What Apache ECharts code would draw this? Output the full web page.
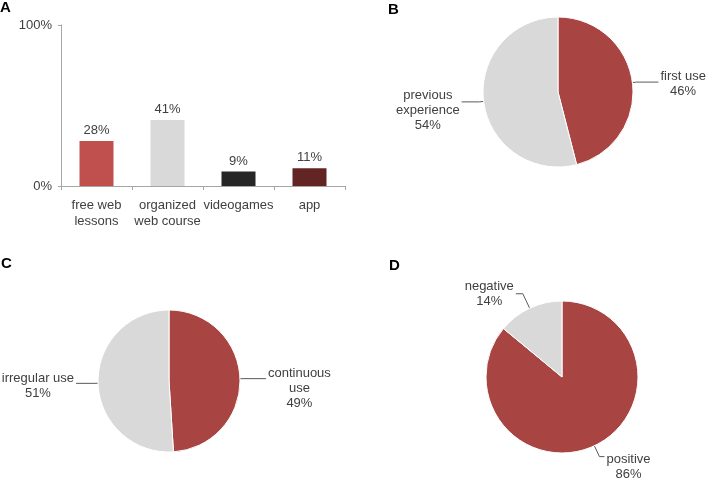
<!DOCTYPE html>
<html><head><meta charset="utf-8">
<script src="https://cdn.jsdelivr.net/npm/echarts@6/dist/echarts.min.js"></script>
<style>html,body{margin:0;padding:0;background:#fff}#c{width:709px;height:480px}</style>
</head><body><div id="c"></div>
<script>
// ---- data ----
const barCategories = ['free web\nlessons', 'organized\nweb course', 'videogames', 'app'];
const barValues = [28, 41, 9, 11];
const yTicks = [0, 100];

const pieBNames = ['first use', 'previous\nexperience'];
const pieBValues = [46, 54];
const pieCNames = ['continuous\nuse', 'irregular use'];
const pieCValues = [49, 51];
const pieDNames = ['positive', 'negative'];
const pieDValues = [86, 14];

// ---- styles ----
const barColors = ['#c0504d', '#d9d9d9', '#262626', '#632523'];
const pieColors = ['#a84442', '#d9d9d9'];
const FONT = '"Liberation Sans", Arial, sans-serif';
const TXT = '#404040';

function centerLabels(dys) {
  return function (p) {
    const r = p.labelRect;
    return {
      x: r.x + r.width / 2,
      y: r.y + r.height / 2 + (dys[p.dataIndex] || 0),
      align: 'center',
      verticalAlign: 'middle',
      labelLinePoints: p.labelLinePoints
    };
  };
}

function pieSeries(names, values, center, radius, lines, dys) {
  return {
    type: 'pie',
    center: center,
    radius: radius,
    startAngle: 90,
    clockwise: true,
    avoidLabelOverlap: false,
    animation: false,
    data: names.map((n, i) => ({
      name: n, value: values[i],
      itemStyle: { color: pieColors[i] },
      labelLine: { length: lines[i][0], length2: lines[i][1] }
    })),
    itemStyle: { borderColor: '#fff', borderWidth: 1 },
    label: {
      show: true, position: 'outside', formatter: '{b}\n{c}%',
      fontFamily: FONT, fontSize: 13, color: TXT, lineHeight: 15,
      bleedMargin: 0, distanceToLabelLine: 2
    },
    labelLine: { show: true, lineStyle: { color: '#595959', width: 1 } },
    labelLayout: centerLabels(dys),
    emphasis: { disabled: true }
  };
}

const titleStyle = { fontFamily: FONT, fontSize: 15, fontWeight: 'bold', color: '#000' };

const option = {
  animation: false,
  title: [
    { text: 'A', left: 0, top: 0, padding: 0, textStyle: titleStyle },
    { text: 'B', left: 388, top: 2, padding: 0, textStyle: titleStyle },
    { text: 'C', left: 1, top: 256, padding: 0, textStyle: titleStyle },
    { text: 'D', left: 389, top: 258, padding: 0, textStyle: titleStyle }
  ],
  grid: { left: 61, top: 25, width: 284, height: 161, containLabel: false },
  xAxis: {
    type: 'category', data: barCategories,
    axisLine: { lineStyle: { color: '#a6a6a6' } },
    axisTick: { show: true, length: 4, lineStyle: { color: '#a6a6a6' } },
    axisLabel: { fontFamily: FONT, fontSize: 13, color: TXT, lineHeight: 16, margin: 11, interval: 0 }
  },
  yAxis: {
    type: 'value', min: yTicks[0], max: yTicks[1], interval: 100,
    axisLine: { show: true, lineStyle: { color: '#a6a6a6' } },
    axisTick: { show: true, length: 3, lineStyle: { color: '#a6a6a6' } },
    splitLine: { show: false },
    axisLabel: { formatter: '{value}%', fontFamily: FONT, fontSize: 13, color: TXT, margin: 9 }
  },
  series: [
    {
      type: 'bar', barWidth: 34,
      data: barValues.map((v, i) => ({ value: v, itemStyle: { color: barColors[i] } })),
      label: { show: true, position: 'top', distance: 4, formatter: '{c}%', fontFamily: FONT, fontSize: 13, color: TXT },
      emphasis: { disabled: true }
    },
    pieSeries(pieBNames, pieBValues, [558, 92], 75, [[4, 22], [4, 18]], [2, 9]),
    pieSeries(pieCNames, pieCValues, [169, 381], 71, [[4, 22], [4, 18]], [10, 3]),
    pieSeries(pieDNames, pieDValues, [562, 377], 76, [[12, 5], [16, 7]], [10, 0])
  ]
};

const chart = echarts.init(document.getElementById('c'), null, { renderer: 'canvas' });
chart.setOption(option);
</script>
</body></html>
